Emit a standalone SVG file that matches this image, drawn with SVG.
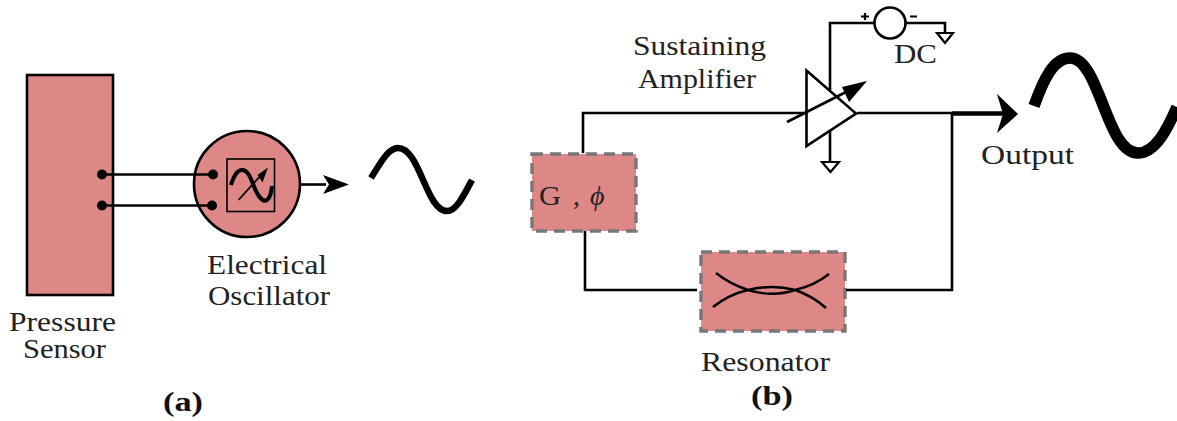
<svg xmlns="http://www.w3.org/2000/svg" width="1177" height="421" viewBox="0 0 1177 421">
<style>
.w{fill:none;stroke:#000;stroke-width:2.6;stroke-linecap:butt}
.t{font-family:"Liberation Serif","Times New Roman",serif;font-size:28px;fill:#222}
.b{font-weight:bold;fill:#111}
.d{fill:#de8787;stroke:#777;stroke-width:3.4;stroke-dasharray:11 7}
.f{fill:#de8787;stroke:#000;stroke-width:2.6}
.g{fill:#fff;stroke:#000;stroke-width:2.2}
</style>
<g id="pressure-sensor">
<rect class="f" x="27" y="75" width="86" height="220"/>
<text class="t" x="9" y="331" textLength="107" lengthAdjust="spacingAndGlyphs">Pressure</text>
<text class="t" x="23" y="358" textLength="83" lengthAdjust="spacingAndGlyphs">Sensor</text>
</g>
<g id="electrical-oscillator">
<circle class="f" cx="247" cy="184" r="53"/>
<rect x="227" y="159" width="47.500" height="52.500" fill="none" stroke="#000" stroke-width="1.600"/>
<path d="M231 185C234 175 238 170 242 170C250 170 252 184 257 193C260 199 264 202 267 200Q271 197 272 186" fill="none" stroke="#000" stroke-width="4"/>
<path d="M238.500 200L262 174" fill="none" stroke="#000" stroke-width="1.800"/>
<path d="M268 167.500L262.500 182.500L257.500 175Z" fill="#000"/>
<text class="t" x="207" y="274" textLength="120" lengthAdjust="spacingAndGlyphs">Electrical</text>
<text class="t" x="208" y="305" textLength="122" lengthAdjust="spacingAndGlyphs">Oscillator</text>
</g>
<g id="signal-a">
<path d="M371 178C382 160 389 148 398 148C420 148 426 211 447 211C456 211 463 197 472 180" fill="none" stroke="#000" stroke-width="6.500"/>
</g>
<g id="gain-phase">
<rect class="d" x="532" y="154" width="104" height="77"/>
<text class="t" x="539" y="205" textLength="22" lengthAdjust="spacingAndGlyphs">G</text>
<text class="t" x="573" y="205">,</text>
<text class="t" x="590" y="205" font-style="italic" font-size="28">ϕ</text>
</g>
<g id="resonator">
<rect class="d" x="701" y="252" width="144" height="79"/>
<path d="M716 273C726 281 736 286 748 290C764 295 780 295 795 290C807 294 817 300 826 308M713 307C723 299 735 293 748 290C764 286 780 286 795 290C808 287 819 282 829 274" fill="none" stroke="#000" stroke-width="2.400"/>
<text class="t" x="701" y="371" textLength="129" lengthAdjust="spacingAndGlyphs">Resonator</text>
</g>
<g id="connectors">
<path class="w" d="M583 153V113H806"/>
<path class="w" d="M585 231V290H697"/>
<path class="w" d="M846 290H952V113H857"/>
<path d="M952 113.500H1004" fill="none" stroke="#000" stroke-width="4.500"/>
<path d="M997 94L1018 114L997 133L1003 114Z" fill="#000"/>
<path class="w" d="M103 174.500H213M103 205.500H211"/>
<circle cx="102" cy="174.500" r="5"/><circle cx="102" cy="205.500" r="5"/>
<circle cx="213" cy="174.500" r="5"/><circle cx="212" cy="205.500" r="5"/>
<path class="w" d="M300 184.500H326"/>
<path d="M323 175L349 184.500L323 194L329 184.500Z" fill="#000"/>
<path class="w" d="M830 90V23H875"/>
<path class="w" d="M905 23H945V33"/>
<path class="w" d="M830 131V162"/>
</g>
<g id="amplifier">
<path class="w" d="M806.500 70.500L856 113.500L806.500 146Z"/>
<path d="M787 122L846 92" fill="none" stroke="#000" stroke-width="2.600"/>
<path d="M867 81L849 102L842 87Z" fill="#000"/>
<path class="g" d="M822 162H839L830.500 172Z"/>
<text class="t" x="633" y="55" textLength="133" lengthAdjust="spacingAndGlyphs">Sustaining</text>
<text class="t" x="638" y="88" textLength="118" lengthAdjust="spacingAndGlyphs">Amplifier</text>
</g>
<g id="dc-source">
<circle cx="890" cy="23" r="15.500" fill="#fff" stroke="#000" stroke-width="2.600"/>
<path class="g" d="M937 33H953L945 43Z"/>
<path d="M861 16.500H869M865 13V20M910 16.500H917" fill="none" stroke="#000" stroke-width="2.200"/>
<text class="t" x="894" y="63" textLength="43" lengthAdjust="spacingAndGlyphs">DC</text>
</g>
<g id="signal-b">
<path d="M1034 106C1044 78 1054 58 1070 58C1100 58 1106 153 1138 153C1155 153 1167 130 1177 107" fill="none" stroke="#000" stroke-width="11.500"/>
<text class="t" x="981" y="164" textLength="93" lengthAdjust="spacingAndGlyphs">Output</text>
</g>
<g id="captions">
<text class="t b" x="163" y="411" textLength="40" lengthAdjust="spacingAndGlyphs">(a)</text>
<text class="t b" x="751" y="405" textLength="42" lengthAdjust="spacingAndGlyphs">(b)</text>
</g>
</svg>
